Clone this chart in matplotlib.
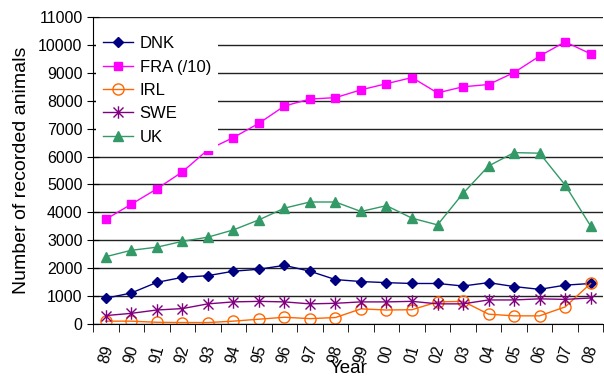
import numpy as np
import matplotlib.pyplot as plt
from matplotlib.path import Path

plt.rcParams['font.family'] = ['Liberation Sans', 'DejaVu Sans']

years = ["89", "90", "91", "92", "93", "94", "95", "96", "97", "98",
         "99", "00", "01", "02", "03", "04", "05", "06", "07", "08"]

dnk = [920, 1110, 1490, 1670, 1730, 1890, 1960, 2100, 1890, 1590,
       1520, 1480, 1450, 1450, 1360, 1480, 1340, 1240, 1390, 1450]
fra = [3750, 4290, 4840, 5450, 6240, 6680, 7190, 7810, 8060, 8110,
       8390, 8610, 8830, 8280, 8500, 8580, 9010, 9600, 10110, 9680]
irl = [100, 100, 60, 50, 50, 100, 170, 240, 190, 230,
       540, 500, 510, 790, 810, 350, 290, 290, 610, 1450]
swe = [300, 380, 500, 550, 720, 790, 810, 790, 720, 740,
       790, 790, 810, 720, 720, 860, 860, 900, 880, 930]
uk = [2410, 2640, 2750, 2960, 3110, 3370, 3730, 4150, 4370, 4370,
      4030, 4240, 3790, 3550, 4680, 5660, 6140, 6120, 4980, 3510]

# asterisk marker: vertical bar plus a cross
star = Path([(0, -1), (0, 1), (-0.8, -0.8), (0.8, 0.8), (-0.8, 0.8), (0.8, -0.8)],
            [Path.MOVETO, Path.LINETO, Path.MOVETO, Path.LINETO, Path.MOVETO, Path.LINETO])

fig = plt.figure(figsize=(6.04, 3.78), dpi=100)
ax = fig.add_axes([0.154, 0.143, 0.845, 0.812])

x = np.arange(len(years))
ax.plot(x, dnk, color="#000080", marker="D", markersize=5, lw=1, label="DNK")
ax.plot(x, fra, color="#FF00FF", marker="s", markersize=6, lw=1, label="FRA (/10)")
ax.plot(x, irl, color="#FF6600", marker="o", markersize=8, mfc="none", mew=1, lw=1, label="IRL")
ax.plot(x, swe, color="#800080", marker=star, markersize=9, mew=1, lw=1, label="SWE")
ax.plot(x, uk, color="#339966", marker="^", markersize=7, lw=1, label="UK")

ax.set_xlim(-0.5, len(years) - 0.5)
ax.set_ylim(0, 11000)
ax.set_yticks(np.arange(0, 11001, 1000))
ax.yaxis.grid(True, color="#222222", lw=1)
ax.set_axisbelow(True)

ax.set_xticks(x)
ax.set_xticklabels(years, rotation=75, fontsize=11.5)
ax.set_xticks(np.arange(-0.5, len(years), 1), minor=True)
ax.tick_params(axis="x", which="major", length=0, pad=14)
ax.tick_params(axis="x", which="minor", length=6, direction="out")
ax.tick_params(axis="y", direction="inout", length=8, labelsize=11.5)

for side in ["top", "right"]:
    ax.spines[side].set_visible(False)

ax.set_ylabel("Number of recorded animals", fontsize=14, labelpad=6)
ax.set_xlabel("Year", fontsize=13.5, labelpad=-3)

leg = ax.legend(loc="upper left", bbox_to_anchor=(0.0, 0.97), fontsize=12,
                frameon=True, fancybox=False, handlelength=1.8, handletextpad=0.4,
                labelspacing=0.5, borderaxespad=0.2)
leg.get_frame().set_edgecolor("none")
leg.get_frame().set_facecolor("white")
leg.get_frame().set_alpha(1)

fig.savefig("out.png", dpi=100)
